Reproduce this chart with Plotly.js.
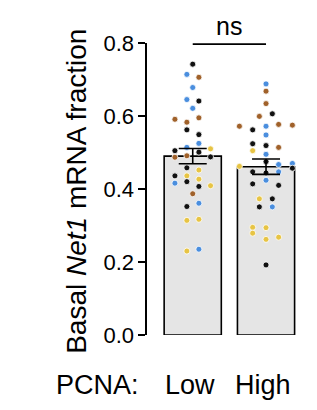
<!DOCTYPE html>
<html>
<head>
<meta charset="utf-8">
<script src="https://cdn.plot.ly/plotly-3.0.1.min.js"></script>
<style>html,body{margin:0;padding:0;background:#fff;}#chart{width:317px;height:410px;}</style>
</head>
<body>
<div id="chart"></div>
<script>
// ---- data ----
const categories = ['Low', 'High'];
const groupLabel = 'PCNA:';
const barMeans = [0.490, 0.461];
const barSEM = [0.021, 0.021];
const sigText = 'ns';
const yTickVals = [0.0, 0.2, 0.4, 0.6, 0.8];
const yTickText = ['0.0', '0.2', '0.4', '0.6', '0.8'];

// individual points (value, colour class, swarm offset in category units)
const lowValues = [0.742, 0.714, 0.706, 0.678, 0.645, 0.641, 0.621, 0.591, 0.583, 0.595,
  0.562, 0.549, 0.525, 0.514, 0.510, 0.505, 0.501, 0.487, 0.491, 0.488,
  0.458, 0.452, 0.436, 0.436, 0.427, 0.416, 0.420, 0.407, 0.409, 0.387,
  0.361, 0.352, 0.314, 0.317, 0.230, 0.235];
const lowColors = ['k', 'b', 'o', 'b', 'b', 'k', 'b', 'o', 'o', 'o',
  'k', 'k', 'b', 'b', 'y', 'k', 'k', 'o', 'o', 'k',
  'k', 'y', 'k', 'y', 'y', 'b', 'k', 'k', 'y', 'o',
  'b', 'k', 'y', 'y', 'y', 'b'];
const lowJitter = [0, -0.08, 0.084, 0, -0.08, 0.084, 0, -0.243, -0.08, 0.084,
  -0.08, 0.084, 0.084, -0.08, 0.243, -0.243, 0.084, -0.243, -0.08, 0.243,
  -0.08, 0.084, -0.243, -0.08, 0.084, -0.243, -0.08, 0.084, 0.243, 0,
  0.084, -0.08, -0.08, 0.084, -0.08, 0.084];

const highValues = [0.688, 0.668, 0.634, 0.606, 0.599, 0.572, 0.572, 0.577, 0.575, 0.562,
  0.548, 0.524, 0.519, 0.505, 0.514, 0.495, 0.475, 0.462, 0.467, 0.470,
  0.457, 0.447, 0.444, 0.447, 0.424, 0.414, 0.410, 0.373, 0.373, 0.351,
  0.351, 0.295, 0.294, 0.279, 0.262, 0.268, 0.192];
const highColors = ['b', 'o', 'o', 'k', 'o', 'o', 'b', 'o', 'o', 'k',
  'b', 'k', 'k', 'y', 'o', 'b', 'k', 'y', 'b', 'b',
  'k', 'k', 'k', 'b', 'b', 'k', 'k', 'y', 'k', 'k',
  'b', 'y', 'y', 'y', 'y', 'y', 'k'];
const highJitter = [0, 0, 0, 0.086, -0.091, -0.363, 0, 0.172, 0.36, -0.182,
  0, -0.182, 0, -0.182, 0.172, 0, 0, -0.363, 0.172, 0.36,
  0.36, -0.182, 0, 0.172, 0, -0.182, 0.172, -0.091, 0.086, -0.091,
  0.086, -0.182, 0, -0.182, 0, 0.172, 0];

// ---- styles ----
const palette = {k: '#111111', b: '#4a8ede', o: '#a0612a', y: '#e7c444'};
const FONT = 'Liberation Sans, Arial, sans-serif';

function dotTrace(values, colors, jitter, gi) {
  return {
    type: 'scatter', mode: 'markers',
    x: values.map((v, i) => gi + jitter[i]),
    y: values,
    marker: {size: 6, color: colors.map(c => palette[c]), line: {color: '#ffffff', width: 0.8}},
    cliponaxis: false, hoverinfo: 'skip', showlegend: false
  };
}

const traces = [
  {
    type: 'bar', x: categories.map((c, i) => i), y: barMeans, width: 0.78,
    marker: {color: '#e5e5e5', line: {color: '#000000', width: 1.6}},
    hoverinfo: 'skip', showlegend: false
  },
  dotTrace(lowValues, lowColors, lowJitter, 0),
  dotTrace(highValues, highColors, highJitter, 1),
  {
    type: 'scatter', mode: 'markers', x: categories.map((c, i) => i), y: barMeans,
    marker: {size: 1, color: 'rgba(0,0,0,0)'},
    error_y: {type: 'data', array: barSEM, visible: true, color: '#000000', thickness: 1.6, width: 14},
    hoverinfo: 'skip', showlegend: false, cliponaxis: false
  }
];

const plotL = 147, plotT = 42.7, plotB = 335, W = 317, H = 410;
const xMin = -0.624, xMax = 1.45;
const plotW = (xMax - xMin) * 73.5;
const plotH = plotB - plotT;
const py = px => (plotB - px) / plotH;      // pixel y -> paper y
const pxp = px => (px - plotL) / plotW;     // pixel x -> paper x

const annotations = [
  {xref: 'paper', yref: 'paper', x: pxp(76), y: py(191.5), xanchor: 'center', yanchor: 'middle',
   text: 'Basal <i>Net1</i> mRNA fraction', textangle: -90, showarrow: false,
   font: {family: FONT, size: 28, color: '#000'}},
  {xref: 'paper', yref: 'paper', x: pxp(97), y: py(385), xanchor: 'center', yanchor: 'middle',
   text: groupLabel, showarrow: false, font: {family: FONT, size: 27, color: '#000'}},
  {xref: 'x', yref: 'y', x: 0.5, y: 0.8, yshift: 1, xanchor: 'center', yanchor: 'bottom',
   text: sigText, showarrow: false, font: {family: FONT, size: 25, color: '#000'}}
];
categories.forEach((c, i) => annotations.push({
  xref: 'x', yref: 'paper', x: i - 0.04, y: py(385), xanchor: 'center', yanchor: 'middle',
  text: c, showarrow: false, font: {family: FONT, size: 27, color: '#000'}
}));

const layout = {
  width: W, height: H,
  margin: {l: plotL, t: plotT, b: H - plotB, r: W - plotL - plotW, pad: 0},
  paper_bgcolor: '#ffffff', plot_bgcolor: '#ffffff',
  showlegend: false,
  xaxis: {range: [xMin, xMax], showgrid: false, zeroline: false, showline: false,
          showticklabels: false, ticks: '', fixedrange: true},
  yaxis: {range: [0, 0.8], showgrid: false, zeroline: false, showline: true,
          linecolor: '#000', linewidth: 1.6, ticks: 'outside', ticklen: 7, tickwidth: 1.6,
          tickcolor: '#000', tickvals: yTickVals, ticktext: yTickText,
          tickfont: {family: FONT, size: 22, color: '#000'}, fixedrange: true},
  shapes: [
    {type: 'line', xref: 'x', yref: 'y', x0: 0, x1: 1, y0: 0.797, y1: 0.797,
     line: {color: '#000', width: 1.6}}
  ],
  annotations: annotations
};

Plotly.newPlot('chart', traces, layout, {displayModeBar: false, staticPlot: true});
</script>
</body>
</html>
